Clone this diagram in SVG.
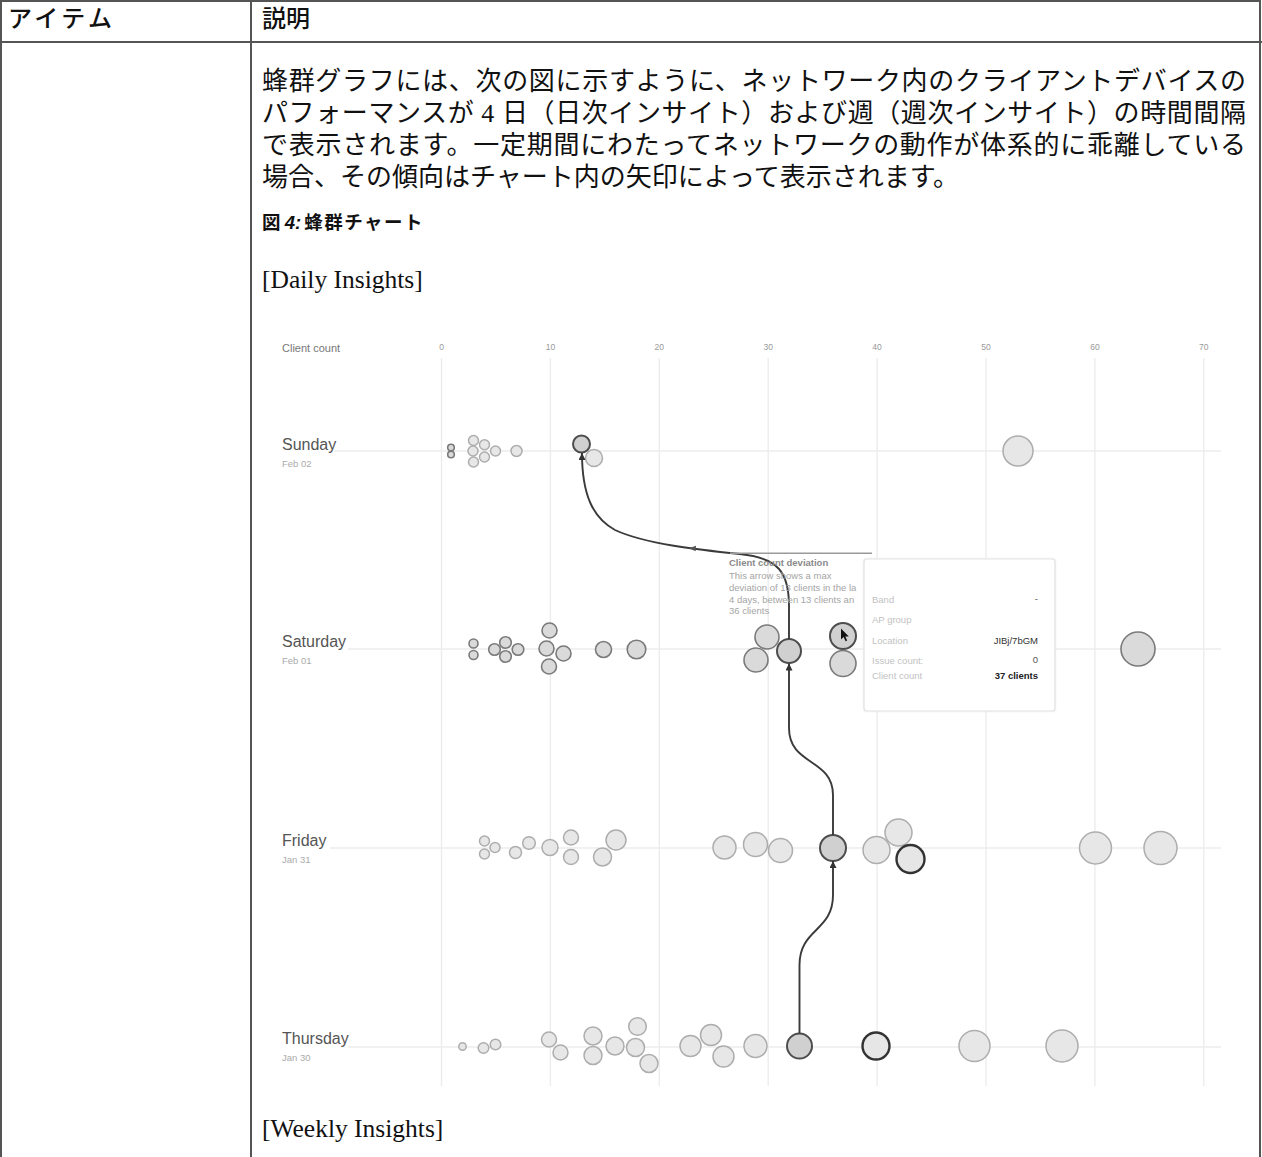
<svg xmlns="http://www.w3.org/2000/svg" width="1262" height="1157" viewBox="0 0 1262 1157">
<style>
.tbl{stroke:#555;stroke-width:2;fill:none}
.jp{font-family:"Noto Sans CJK JP","Liberation Sans",sans-serif;fill:#111}
.para{font-family:"Liberation Serif","Noto Sans CJK JP",serif;font-size:26px;fill:#111}
.lat{font-family:"Liberation Serif",serif;font-size:25.5px;fill:#111}
.grid{stroke:#ebebeb;stroke-width:1.3}
.row{stroke:#ececec;stroke-width:1.5}
.tick{font-family:"Liberation Sans",sans-serif;font-size:8.5px;fill:#999;text-anchor:middle}
.day{font-family:"Liberation Sans",sans-serif;font-size:16px;fill:#555}
.date{font-family:"Liberation Sans",sans-serif;font-size:9.5px;fill:#aaa}
.lt{fill:#e7e7e7;stroke:#adadad;stroke-width:1.5}
.md{fill:#dadada;stroke:#7a7a7a;stroke-width:1.6}
.dk{fill:#d0d0d0;stroke:#4d4d4d;stroke-width:2}
.hl{fill:#e6e6e6;stroke:#333;stroke-width:2.4}
.con{fill:none;stroke:#3a3a3a;stroke-width:1.9}
.tt{font-family:"Liberation Sans",sans-serif;font-size:9.5px}
</style>
<defs>
<marker id="ah" markerUnits="userSpaceOnUse" markerWidth="8" markerHeight="8" refX="7" refY="3.5" orient="auto">
<path d="M0,0 L7,3.5 L0,7 Z" fill="#333"/>
</marker>
</defs>
<rect width="1262" height="1157" fill="#fff"/>
<g id="table">
<path class="tbl" d="M1,1157 V1 H1260 V1157"/>
<line class="tbl" x1="0" y1="42" x2="1262" y2="42"/>
<line class="tbl" x1="251" y1="0" x2="251" y2="1157"/>
<text class="jp" x="8" y="27" font-size="24" font-weight="500" letter-spacing="3.5">アイテム</text>
<text class="jp" x="262" y="27" font-size="24" font-weight="500">説明</text>
</g>
<g id="paragraph">
<text class="para" x="262" y="90" textLength="984" lengthAdjust="spacing">蜂群グラフには、次の図に示すように、ネットワーク内のクライアントデバイスの</text>
<text class="para" x="262" y="122" textLength="984" lengthAdjust="spacing">パフォーマンスが 4 日（日次インサイト）および週（週次インサイト）の時間間隔</text>
<text class="para" x="262" y="154" textLength="984" lengthAdjust="spacing">で表示されます。一定期間にわたってネットワークの動作が体系的に乖離している</text>
<text class="para" x="262" y="186">場合、その傾向はチャート内の矢印によって表示されます。</text>
</g>
<g id="caption">
<text x="262" y="229" font-size="18.5" font-weight="bold" class="jp">図 <tspan font-family="Liberation Sans" font-style="italic">4:</tspan><tspan dx="3" letter-spacing="1.5">蜂群チャート</tspan></text>
<text class="lat" x="262" y="288">[Daily Insights]</text>
<text class="lat" x="262" y="1137">[Weekly Insights]</text>
</g>
<g id="axis">
<g class="grid">
<line x1="441.5" y1="358" x2="441.5" y2="1086"/>
<line x1="550.4" y1="358" x2="550.4" y2="1086"/>
<line x1="659.3" y1="358" x2="659.3" y2="1086"/>
<line x1="768.2" y1="358" x2="768.2" y2="1086"/>
<line x1="877.1" y1="358" x2="877.1" y2="1086"/>
<line x1="986" y1="358" x2="986" y2="1086"/>
<line x1="1094.9" y1="358" x2="1094.9" y2="1086"/>
<line x1="1203.8" y1="358" x2="1203.8" y2="1086"/>
</g>
<text x="282" y="352" font-family="Liberation Sans" font-size="11" fill="#777">Client count</text>
<text class="tick" x="441.5" y="350">0</text>
<text class="tick" x="550.4" y="350">10</text>
<text class="tick" x="659.3" y="350">20</text>
<text class="tick" x="768.2" y="350">30</text>
<text class="tick" x="877.1" y="350">40</text>
<text class="tick" x="986" y="350">50</text>
<text class="tick" x="1094.9" y="350">60</text>
<text class="tick" x="1203.8" y="350">70</text>
<g class="row">
<line x1="334" y1="451" x2="1221" y2="451"/>
<line x1="348" y1="649" x2="1221" y2="649"/>
<line x1="330" y1="848" x2="1221" y2="848"/>
<line x1="348" y1="1047" x2="1221" y2="1047"/>
</g>
</g>
<g id="label-sunday"><text class="day" x="282" y="450">Sunday</text><text class="date" x="282" y="467">Feb 02</text></g>
<g id="label-saturday"><text class="day" x="282" y="647">Saturday</text><text class="date" x="282" y="664">Feb 01</text></g>
<g id="label-friday"><text class="day" x="282" y="846">Friday</text><text class="date" x="282" y="863">Jan 31</text></g>
<g id="label-thursday"><text class="day" x="282" y="1044">Thursday</text><text class="date" x="282" y="1061">Jan 30</text></g>
<g id="bubbles-sunday">
<circle class="md" cx="451" cy="447.5" r="3.3" stroke="#999" fill="#e4e4e4"/>
<circle class="md" cx="451" cy="454.5" r="3.3" stroke="#999" fill="#e4e4e4"/>
<circle class="lt" cx="473.5" cy="440.5" r="5" stroke="#999"/>
<circle class="lt" cx="484.5" cy="444.8" r="5" stroke="#999"/>
<circle class="lt" cx="473" cy="451" r="5" stroke="#999"/>
<circle class="lt" cx="484.5" cy="457" r="5" stroke="#999"/>
<circle class="lt" cx="473.5" cy="462" r="5" stroke="#999"/>
<circle class="lt" cx="495.5" cy="451" r="5" stroke="#999"/>
<circle class="lt" cx="516.5" cy="451" r="5.5" stroke="#999"/>
<circle class="lt" cx="594" cy="458" r="8.5"/>
<circle class="lt" cx="1018" cy="451" r="15"/>
</g>
<g id="node-sunday-13"><circle class="dk" cx="581.5" cy="444" r="8.5"/></g>
<g id="bubbles-saturday">
<circle class="md" cx="473.5" cy="643.5" r="4.5"/>
<circle class="md" cx="473.5" cy="655" r="4.5"/>
<circle class="md" cx="494.5" cy="649.5" r="5.8"/>
<circle class="md" cx="505.5" cy="642.5" r="5.8"/>
<circle class="md" cx="505.5" cy="656.5" r="5.8"/>
<circle class="md" cx="518" cy="649.5" r="5.8"/>
<circle class="md" cx="549.5" cy="630.5" r="7.5"/>
<circle class="md" cx="546.5" cy="648.5" r="7.5"/>
<circle class="md" cx="563.5" cy="653.5" r="7.5"/>
<circle class="md" cx="549" cy="666.5" r="7.5"/>
<circle class="md" cx="603.5" cy="649.5" r="8"/>
<circle class="md" cx="636.5" cy="649.5" r="9.3"/>
<circle class="md" cx="767" cy="637" r="12" stroke="#888"/>
<circle class="md" cx="756" cy="660" r="12" stroke="#888"/>
<circle class="md" cx="843" cy="663.5" r="13" stroke="#888"/>
<circle class="md" cx="1138" cy="649" r="17" stroke="#777"/>
</g>
<g id="node-saturday-36"><circle class="dk" cx="789" cy="651" r="12"/></g>
<g id="node-saturday-37">
<circle class="dk" cx="843" cy="636" r="13" stroke="#2a2a2a" stroke-width="2.6"/>
<path d="M841,628.5 L841,639.5 L843.6,637 L845.6,641.2 L847.2,640.4 L845.3,636.4 L848.8,636.4 Z" fill="#111"/>
</g>
<g id="bubbles-friday">
<circle class="lt" cx="484.5" cy="841" r="5"/>
<circle class="lt" cx="484.5" cy="854" r="5"/>
<circle class="lt" cx="495" cy="847.5" r="5"/>
<circle class="lt" cx="515.5" cy="852.5" r="6"/>
<circle class="lt" cx="529" cy="843" r="6.3"/>
<circle class="lt" cx="550" cy="847.5" r="8"/>
<circle class="lt" cx="571" cy="837.5" r="7.5"/>
<circle class="lt" cx="571" cy="857" r="7.5"/>
<circle class="lt" cx="602.5" cy="857" r="9"/>
<circle class="lt" cx="616" cy="840" r="10"/>
<circle class="lt" cx="724.5" cy="847.5" r="11.5"/>
<circle class="lt" cx="755.5" cy="844.5" r="12"/>
<circle class="lt" cx="780.5" cy="850.5" r="12"/>
<circle class="lt" cx="876.5" cy="850" r="13.5"/>
<circle class="lt" cx="898.5" cy="832.5" r="13.5"/>
<circle class="lt" cx="1095.5" cy="848" r="16"/>
<circle class="lt" cx="1160.5" cy="848" r="16.5"/>
</g>
<g id="node-friday-35"><circle class="dk" cx="833" cy="848" r="13"/></g>
<g id="node-friday-43"><circle class="hl" cx="910.5" cy="859" r="14"/></g>
<g id="bubbles-thursday">
<circle class="lt" cx="462.5" cy="1046.5" r="3.7"/>
<circle class="lt" cx="483.5" cy="1048" r="5.3"/>
<circle class="lt" cx="495.5" cy="1044.5" r="5.3"/>
<circle class="lt" cx="549" cy="1039.5" r="7.5"/>
<circle class="lt" cx="560.5" cy="1052.5" r="7.5"/>
<circle class="lt" cx="593" cy="1036" r="9"/>
<circle class="lt" cx="593" cy="1055.5" r="9"/>
<circle class="lt" cx="615" cy="1046" r="9"/>
<circle class="lt" cx="637.5" cy="1026.5" r="8.8"/>
<circle class="lt" cx="635.5" cy="1047.5" r="9"/>
<circle class="lt" cx="649" cy="1063.5" r="9"/>
<circle class="lt" cx="690.5" cy="1046" r="10.5"/>
<circle class="lt" cx="711" cy="1035" r="10.5"/>
<circle class="lt" cx="723.5" cy="1056.5" r="10.5"/>
<circle class="lt" cx="755.5" cy="1046" r="11.5"/>
<circle class="lt" cx="974.5" cy="1046" r="15.5"/>
<circle class="lt" cx="1062" cy="1046" r="16"/>
</g>
<g id="node-thursday-33"><circle class="dk" cx="799.5" cy="1046" r="12.5"/></g>
<g id="node-thursday-40"><circle class="hl" cx="876" cy="1046" r="13.5" fill="#ececec"/></g>
<g id="connectors">
<path class="con" marker-end="url(#ah)" d="M799.5,1033.5 L799.5,965 C799.5,928 833,932 833,895 L833,861"/>
<path class="con" marker-end="url(#ah)" d="M833,835 L833,795 C833,758 789,766 789,728 L789,663.5"/>
<path class="con" marker-end="url(#ah)" d="M789,639 L789,606 C789,572 778,558 740,554 C700,550 645,544 615,530 C593,518 582,495 582,453"/>
<path d="M689,548.3 L696,545.8 L695.6,551.2 Z" fill="#555"/>
</g>
<g id="annotation">
<line x1="730" y1="553.3" x2="872" y2="553.3" stroke="#9a9a9a" stroke-width="1.6"/>
<text class="tt" x="729" y="566" font-weight="bold" fill="#8a8a8a">Client count deviation</text>
<text class="tt" x="729" y="579" fill="#a5a5a5">This arrow shows a max</text>
<text class="tt" x="729" y="591" fill="#a5a5a5">deviation of 13 clients in the la</text>
<text class="tt" x="729" y="602.5" fill="#a5a5a5">4 days, between 13 clients an</text>
<text class="tt" x="729" y="614" fill="#a5a5a5">36 clients</text>
</g>
<g id="tooltip">
<rect x="862.5" y="557.5" width="194" height="155" rx="4" fill="#f4f4f4" opacity="0.6"/>
<rect x="864" y="559" width="191" height="152" rx="3" fill="#fff" stroke="#e2e2e2" stroke-width="1.2"/>
<g class="tt" fill="#c2c2c2">
<text x="872" y="602.5">Band</text>
<text x="872" y="623">AP group</text>
<text x="872" y="643.5">Location</text>
<text x="872" y="663.5">Issue count:</text>
<text x="872" y="678.5">Client count</text>
</g>
<g class="tt" text-anchor="end">
<text x="1038" y="602" fill="#555">-</text>
<text x="1038" y="643.5" fill="#333">JIBj/7bGM</text>
<text x="1038" y="663" fill="#555">0</text>
<text x="1038" y="678.5" fill="#222" font-weight="bold">37 clients</text>
</g>
</g>
</svg>
